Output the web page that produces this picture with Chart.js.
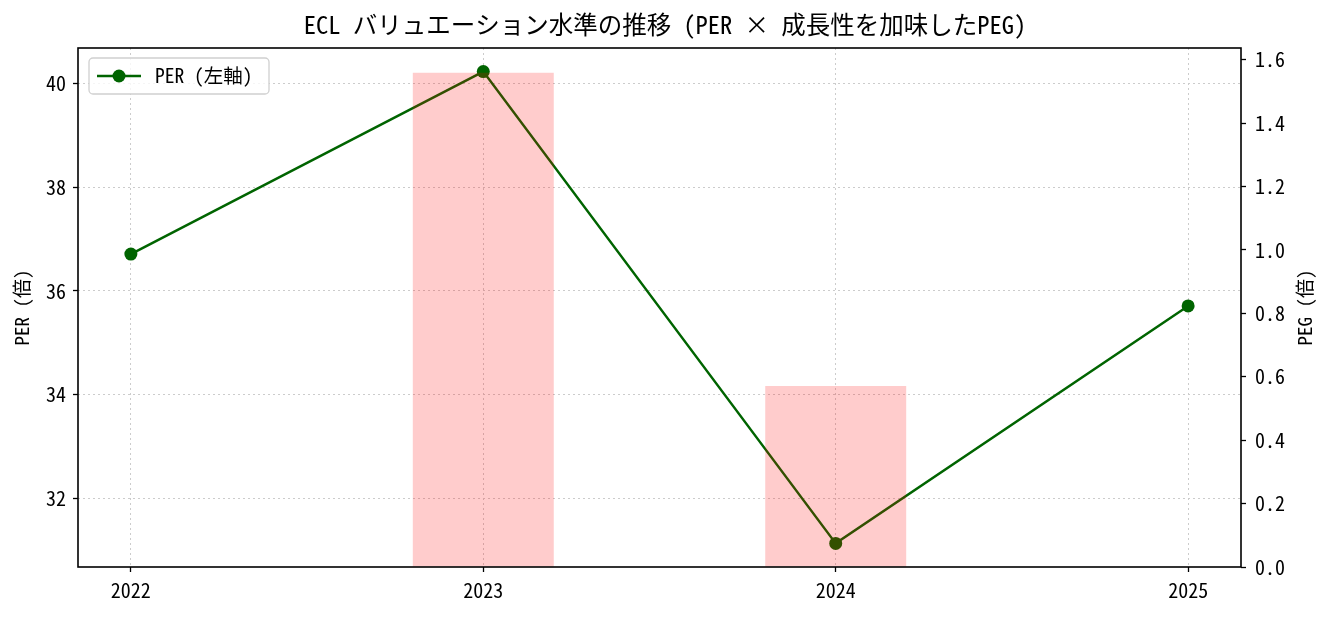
<!DOCTYPE html>
<html>
<head>
<meta charset="utf-8">
<script src="https://cdn.jsdelivr.net/npm/chart.js@4"></script>
<style>
html,body{margin:0;padding:0;background:#fff;}
#wrap{position:relative;width:1330px;height:617px;}
</style>
</head>
<body>
<div id="wrap"><canvas id="c" width="1330" height="617"></canvas></div>
<script>
const years = ['2022', '2023', '2024', '2025'];
const perValues = [36.71, 40.23, 31.13, 35.71];
const pegValues = [null, 1.559, 0.571, null];
const perTicks = [32, 34, 36, 38, 40];
const pegTicks = [0, 0.2, 0.4, 0.6, 0.8, 1.0, 1.2, 1.4, 1.6];
const titleText = 'ECL バリュエーション水準の推移 (PER × 成長性を加味したPEG)';
const legendText = 'PER (左軸)';
const leftTitle = 'PER (倍)';
const rightTitle = 'PEG (倍)';

const FONT = "'Noto Sans Mono CJK JP', 'DejaVu Sans Condensed', 'Noto Sans CJK JP', sans-serif";
const tickFont = {family: FONT, size: 20};

const frameAndLegend = {
  id: 'frameAndLegend',
  afterDraw(chart) {
    const {ctx, chartArea: a} = chart;
    ctx.save();
    ctx.strokeStyle = '#000';
    ctx.lineWidth = 1.6;
    ctx.strokeRect(a.left, a.top, a.right - a.left, a.bottom - a.top);
    // right axis title, rotated bottom-to-top like the left one
    ctx.fillStyle = '#000';
    ctx.font = "19px " + FONT;
    ctx.textAlign = 'center';
    ctx.textBaseline = 'middle';
    ctx.translate(1305, (a.top + a.bottom) / 2);
    ctx.rotate(-Math.PI / 2);
    ctx.fillText(rightTitle, 0, 0);
    ctx.restore();
    ctx.save();
    // legend
    const lx = a.left + 11, ly = a.top + 10, lw = 180, lh = 36;
    ctx.fillStyle = 'rgba(255,255,255,0.8)';
    ctx.strokeStyle = '#d0d0d0';
    ctx.lineWidth = 1.3;
    ctx.beginPath();
    ctx.roundRect(lx, ly, lw, lh, 4);
    ctx.fill();
    ctx.stroke();
    const cy = ly + lh / 2;
    ctx.strokeStyle = '#006400';
    ctx.lineWidth = 2.5;
    ctx.beginPath();
    ctx.moveTo(lx + 8, cy);
    ctx.lineTo(lx + 52, cy);
    ctx.stroke();
    ctx.fillStyle = '#006400';
    ctx.beginPath();
    ctx.arc(lx + 30, cy, 6.5, 0, Math.PI * 2);
    ctx.fill();
    ctx.fillStyle = '#000';
    ctx.font = "19.5px " + FONT;
    ctx.textBaseline = 'middle';
    ctx.textAlign = 'left';
    ctx.fillText(legendText, lx + 66, cy);
    ctx.restore();
  }
};

const gridCommon = {
  color: '#cccccc',
  lineWidth: 1,
  offset: false,
  drawTicks: true,
  tickLength: 5,
  tickColor: '#000',
  tickWidth: 1.3,
  tickBorderDash: []
};

new Chart(document.getElementById('c'), {
  data: {
    datasets: [
      {
        type: 'bar',
        label: 'PEG (右軸)',
        data: years.map((y, i) => ({x: i, y: pegValues[i]})),
        backgroundColor: 'rgba(255,0,0,0.2)',
        borderWidth: 0,
        yAxisID: 'y2',
        xAxisID: 'x',
        barPercentage: 0.4,
        categoryPercentage: 1.0,
        order: 0
      },
      {
        type: 'line',
        label: legendText,
        data: years.map((y, i) => ({x: i, y: perValues[i]})),
        borderColor: '#006400',
        backgroundColor: '#006400',
        borderWidth: 2.5,
        pointRadius: 6.5,
        pointHoverRadius: 6.5,
        pointBorderWidth: 0,
        tension: 0,
        yAxisID: 'y',
        xAxisID: 'x',
        order: 1
      }
    ]
  },
  options: {
    responsive: false,
    animation: false,
    devicePixelRatio: 1,
    layout: {padding: {left: 0, right: 0, top: 0, bottom: 9}},
    plugins: {
      legend: {display: false},
      tooltip: {enabled: false},
      title: {
        display: true,
        text: titleText,
        color: '#000',
        font: {family: FONT, size: 24.5, weight: 'normal'},
        padding: {top: 10, bottom: 8.6}
      }
    },
    scales: {
      x: {
        type: 'linear',
        min: -0.15,
        max: 3.15,
        offset: false,
        afterBuildTicks: s => { s.ticks = years.map((y, i) => ({value: i})); },
        ticks: {
          callback: v => years[v],
          color: '#000',
          font: tickFont,
          padding: 6,
          maxRotation: 0,
          autoSkip: false
        },
        grid: gridCommon,
        border: {display: false, dash: [2, 3]}
      },
      y: {
        type: 'linear',
        position: 'left',
        min: 30.675,
        max: 40.685,
        afterBuildTicks: s => { s.ticks = perTicks.map(v => ({value: v})); },
        afterFit: s => { s.width = 78; },
        ticks: {color: '#000', font: tickFont, padding: 7},
        title: {display: true, text: leftTitle, color: '#000', font: {family: FONT, size: 19}, padding: {top: 10, bottom: 0}},
        grid: gridCommon,
        border: {display: false, dash: [2, 3]}
      },
      y2: {
        type: 'linear',
        position: 'right',
        min: 0,
        max: 1.637,
        afterBuildTicks: s => { s.ticks = pegTicks.map(v => ({value: v})); },
        afterFit: s => { s.width = 89; },
        ticks: {color: '#000', font: tickFont, padding: 9, callback: v => v.toFixed(1)},
        grid: {
          drawOnChartArea: false,
          drawTicks: true,
          tickLength: 5,
          tickColor: '#000',
          tickWidth: 1.3
        },
        border: {display: false}
      }
    }
  },
  plugins: [frameAndLegend]
});
</script>
</body>
</html>
